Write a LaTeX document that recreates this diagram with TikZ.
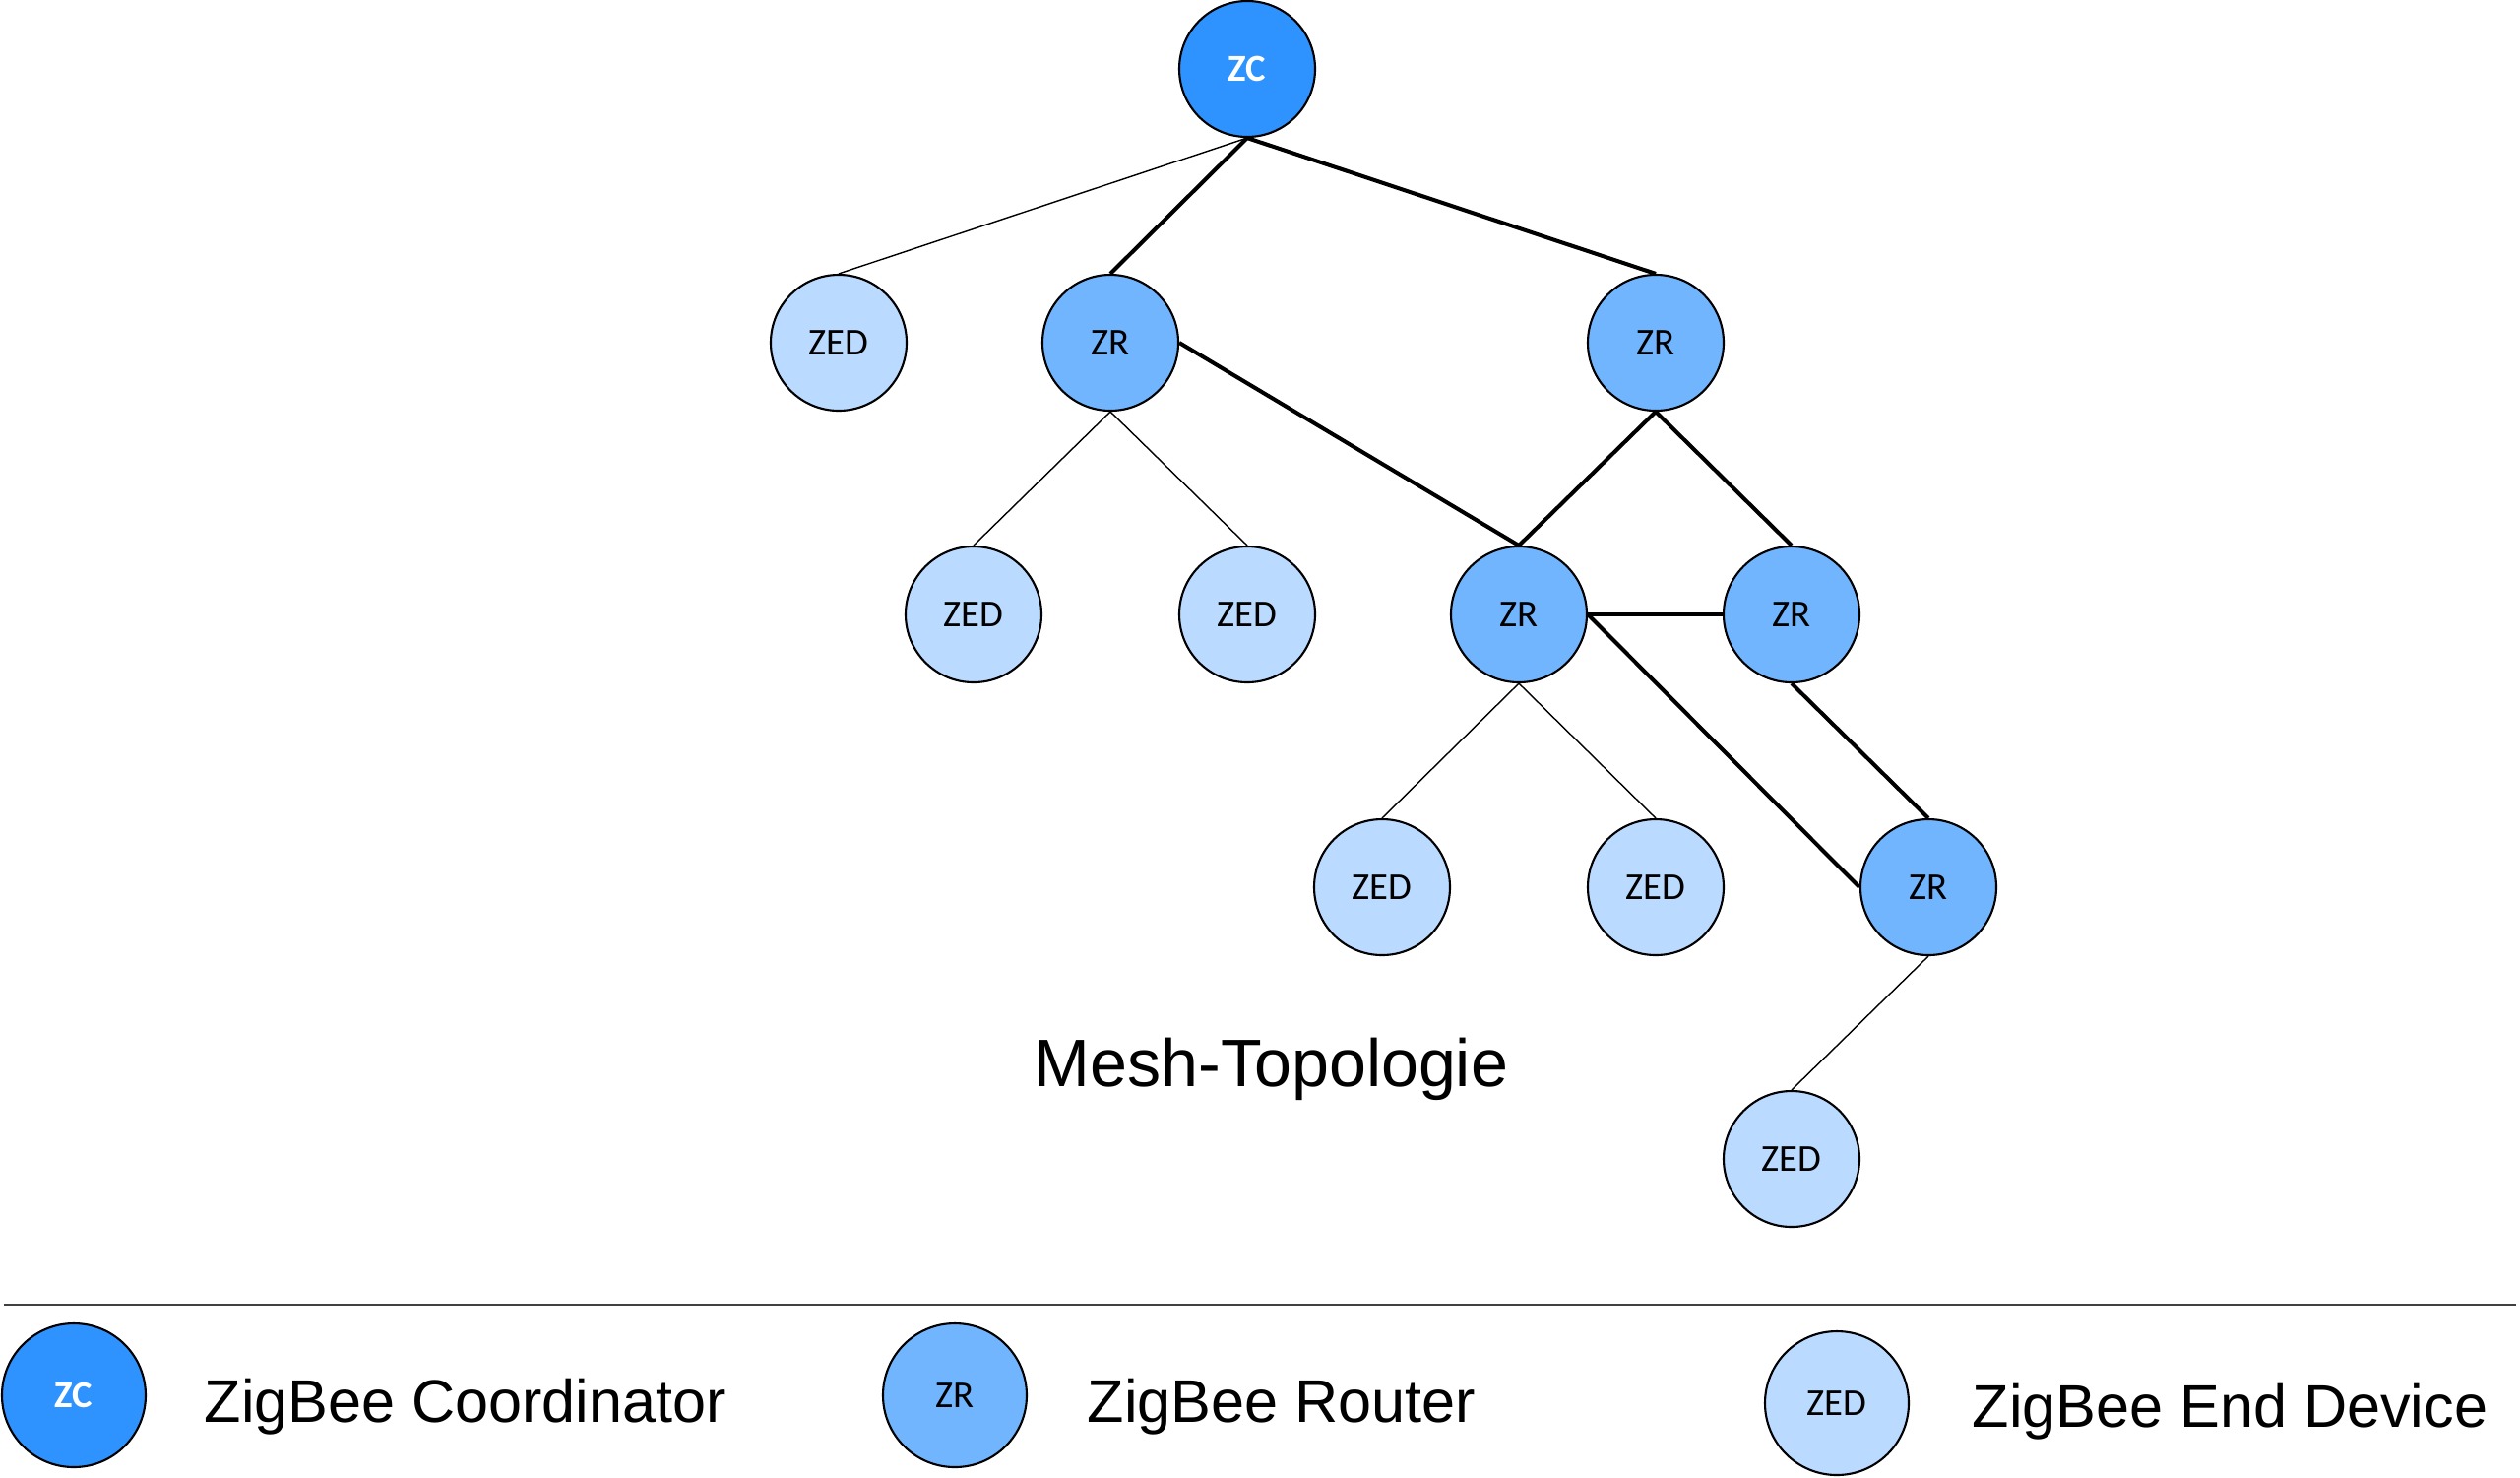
\documentclass[tikz,border=0pt]{standalone}
\usepackage{fontspec}
\setmainfont{Liberation Sans}
\newfontfamily\nodefont{Carlito}

\definecolor{zcblue}{RGB}{46,146,255}
\definecolor{zrblue}{RGB}{113,181,255}
\definecolor{zedblue}{RGB}{186,218,255}

\tikzset{
  device/.style={draw,circle,line width=0.6pt,inner sep=0pt,minimum size=1.38cm,
                 font=\nodefont\fontsize{11}{13}\selectfont},
  zc/.style={device,fill=zcblue,text=white,font=\nodefont\bfseries\fontsize{11}{13}\selectfont},
  zr/.style={device,fill=zrblue},
  zed/.style={device,fill=zedblue},
  meshlink/.style={line width=1.15pt},
  leaflink/.style={line width=0.4pt},
  legendtext/.style={anchor=base west,inner sep=0pt,font=\fontsize{17.4}{20}\selectfont}
}

\begin{document}
\begin{tikzpicture}
\useasboundingbox (0,0) rectangle (25.6,-15);

\node [zc]  (zc)   at (12.67, -0.70) {ZC};
\node [zed] (zed1) at ( 8.52, -3.48) {ZED};
\node [zr]  (zr1)  at (11.28, -3.48) {ZR};
\node [zr]  (zr2)  at (16.82, -3.48) {ZR};
\node [zed] (zed2) at ( 9.89, -6.24) {ZED};
\node [zed] (zed3) at (12.67, -6.24) {ZED};
\node [zr]  (zr3)  at (15.43, -6.24) {ZR};
\node [zr]  (zr4)  at (18.20, -6.24) {ZR};
\node [zed] (zed4) at (14.04, -9.01) {ZED};
\node [zed] (zed5) at (16.82, -9.01) {ZED};
\node [zr]  (zr5)  at (19.59, -9.01) {ZR};
\node [zed] (zed6) at (18.20,-11.77) {ZED};

\draw [leaflink] (zc.south) -- (zed1.north);
\draw [meshlink] (zc.south) -- (zr1.north);
\draw [meshlink] (zc.south) -- (zr2.north);
\draw [meshlink] (zr1.east) -- (zr3.north);
\draw [leaflink] (zr1.south) -- (zed2.north);
\draw [leaflink] (zr1.south) -- (zed3.north);
\draw [meshlink] (zr2.south) -- (zr3.north);
\draw [meshlink] (zr2.south) -- (zr4.north);
\draw [meshlink] (zr3.east) -- (zr4.west);
\draw [meshlink] (zr3.east) -- (zr5.west);
\draw [meshlink] (zr4.south) -- (zr5.north);
\draw [leaflink] (zr3.south) -- (zed4.north);
\draw [leaflink] (zr3.south) -- (zed5.north);
\draw [leaflink] (zr5.south) -- (zed6.north);

\node [anchor=base west,inner sep=0pt,font=\fontsize{19.4}{23}\selectfont]
    (title) at (10.50,-11.03) {Mesh-Topologie};

\coordinate (sepleft)  at ( 0.04,-13.25);
\coordinate (sepright) at (25.56,-13.25);
\draw [line width=0.5pt,black!75] (sepleft) -- (sepright);

\node [zc,minimum size=1.46cm]  (keyzc)  at ( 0.75,-14.17) {ZC};
\node [zr,minimum size=1.46cm]  (keyzr)  at ( 9.70,-14.17) {ZR};
\node [zed,minimum size=1.46cm] (keyzed) at (18.66,-14.25) {ZED};
\node [legendtext] (keyzctext)  at ( 2.07,-14.44) {ZigBee Coordinator};
\node [legendtext] (keyzrtext)  at (11.04,-14.44) {ZigBee Router};
\node [legendtext] (keyzedtext) at (20.03,-14.49) {ZigBee End Device};
\end{tikzpicture}
\end{document}
